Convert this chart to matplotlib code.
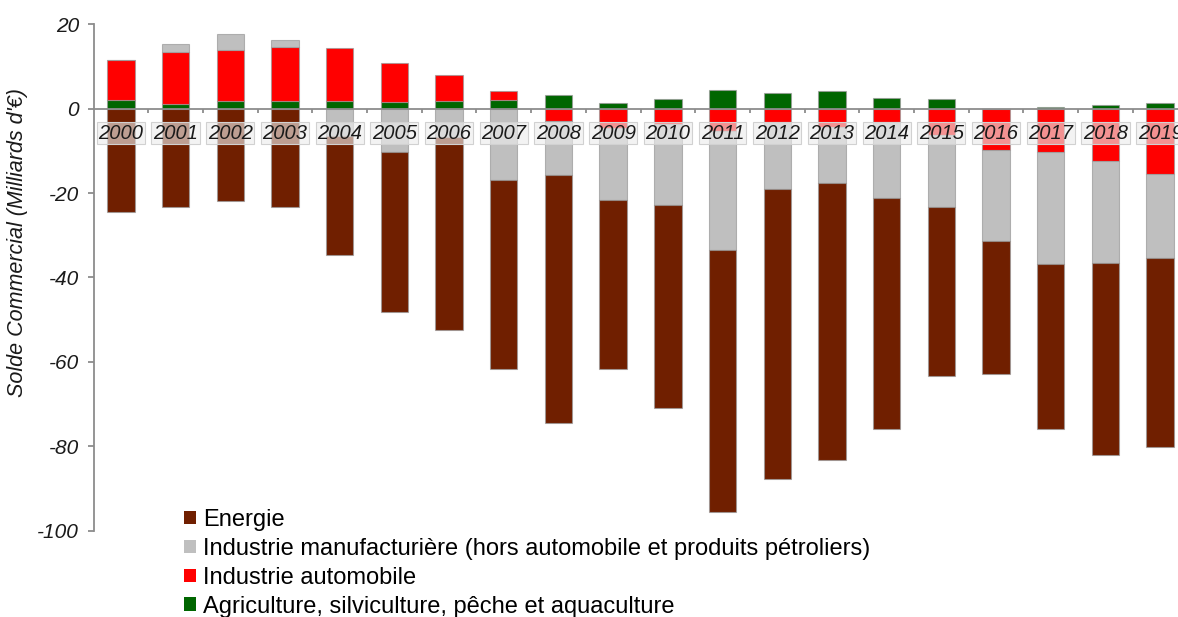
import numpy as np
import matplotlib
matplotlib.use("Agg")
import matplotlib.pyplot as plt
from matplotlib.patches import Patch

plt.rcParams['font.family'] = ['Liberation Sans', 'DejaVu Sans']

# Solde commercial par secteur (milliards d'euros)
annees = [str(a) for a in range(2000, 2020)]
agriculture = [2.1, 1.1, 1.7, 1.7, 1.7, 1.5, 1.7, 2.15, 3.3, 1.45,
               2.25, 4.45, 3.6, 4.3, 2.6, 2.4, 0.0, 0.3, 0.9, 1.3]
automobile = [9.4, 12.3, 12.1, 12.9, 12.7, 9.3, 6.3, 2.0, -2.9, -4.6,
              -3.6, -5.4, -3.05, -4.4, -3.05, -6.2, -9.7, -10.3, -12.3, -15.4]
manufacture = [0.0, 1.9, 3.9, 1.6, -6.5, -10.2, -6.8, -17.0, -12.9, -17.1,
               -19.3, -28.1, -15.9, -13.2, -18.1, -17.1, -21.6, -26.5, -24.4, -20.1]
energie = [-24.5, -23.2, -21.9, -23.2, -28.2, -38.0, -45.6, -44.7, -58.6, -39.9,
           -48.0, -62.2, -68.9, -65.6, -54.7, -40.0, -31.6, -39.1, -45.5, -44.7]

labels = ["Agriculture, silviculture, pêche et aquaculture",
          "Industrie automobile",
          "Industrie manufacturière (hors automobile et produits pétroliers)",
          "Energie"]
colors = ["#006600", "#FF0000", "#BFBFBF", "#701F00"]

W, H = 1178, 617
fig = plt.figure(figsize=(W / 100, H / 100), dpi=100)
ax = fig.add_axes([93.5 / W, 1 - 530.5 / H, 1094 / W, (530.5 - 24.3) / H])

x = np.arange(len(annees))
pos = np.zeros(len(x))
neg = np.zeros(len(x))
handles = []
for vals, col, lab in zip([agriculture, automobile, manufacture, energie], colors, labels):
    v = np.array(vals)
    base = np.where(v >= 0, pos, neg)
    ax.bar(x, v, 0.5, bottom=base, color=col, edgecolor=(0.6, 0.6, 0.6, 0.7),
           linewidth=0.8, zorder=1)
    pos = pos + np.where(v >= 0, v, 0)
    neg = neg + np.where(v < 0, v, 0)
    handles.append(Patch(facecolor=col, edgecolor='none', label=lab))

ax.set_xlim(-0.5, len(x) - 0.5)
ax.set_ylim(-100, 20)
ax.set_yticks(np.arange(-100, 21, 20))
ax.set_yticklabels([str(t) for t in range(-100, 21, 20)], fontsize=15, style='italic')

for s in ['top', 'right']:
    ax.spines[s].set_visible(False)
ax.spines['bottom'].set_position(('data', 0))
ax.spines['bottom'].set_color('#8c8c8c')
ax.spines['bottom'].set_linewidth(1.3)
ax.spines['left'].set_color('#8c8c8c')
ax.spines['left'].set_linewidth(1.3)

ax.set_xticks(x)
ax.set_xticklabels([])
ax.tick_params(axis='x', which='major', length=0)
ax.set_xticks(x[:-1] + 0.5, minor=True)
ax.tick_params(axis='x', which='minor', length=3, width=1.3, color='#8c8c8c', direction='out')
ax.tick_params(axis='y', length=4.5, width=1.3, color='#8c8c8c', pad=6, labelcolor='#1a1a1a')

for i, yr in enumerate(annees):
    ax.text(i, -5.8, yr, ha='center', va='center', fontsize=14.5, style='italic',
            color='#1a1a1a', zorder=5, clip_on=False,
            bbox=dict(boxstyle='square,pad=0.08', fc=(0.93, 0.93, 0.93, 0.62),
                      ec=(0.82, 0.82, 0.82), lw=0.8))

fig.text(18 / W, 1 - 243 / H, "Solde Commercial (Milliards d'€)", rotation=90,
         ha='center', va='center', fontsize=15.5, style='italic', color='#1a1a1a')

fig.legend(handles=handles[::-1], loc='upper left', bbox_to_anchor=(184 / W, 1 - 509 / H),
           frameon=False, fontsize=17, handlelength=0.5, handleheight=0.5,
           handletextpad=0.3, labelspacing=0.29, borderaxespad=0, borderpad=0)

fig.savefig("out.png", dpi=100)
